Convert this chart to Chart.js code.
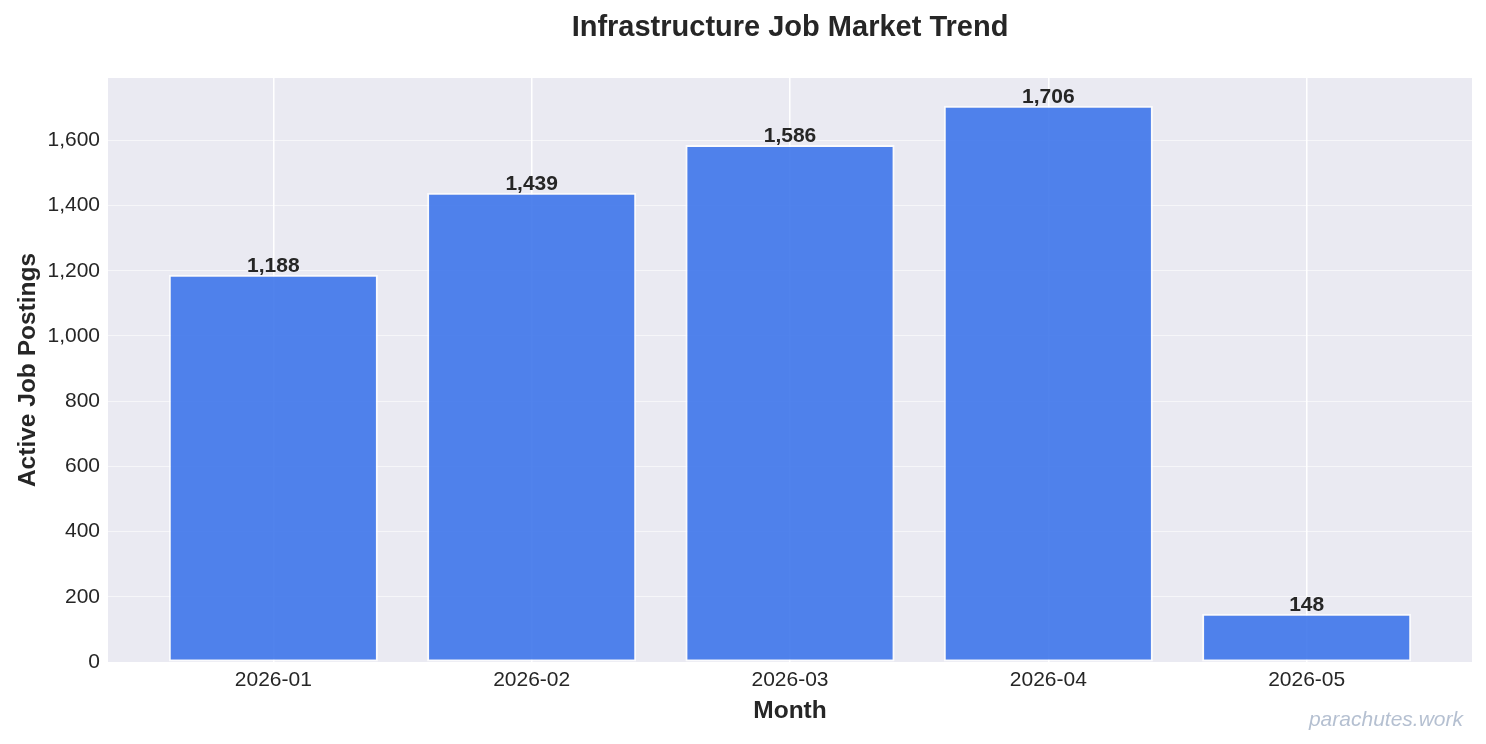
<!DOCTYPE html>
<html>
<head>
<meta charset="utf-8">
<script src="https://cdn.jsdelivr.net/npm/chart.js@4.4.0/dist/chart.umd.min.js"></script>
<style>
  html, body { margin: 0; padding: 0; background: #ffffff; }
  #wrap { width: 1486px; height: 744px; }
</style>
</head>
<body>
<div id="wrap"><canvas id="myChart" width="1486" height="744"></canvas></div>
<script>
// chart data
const months = ["2026-01", "2026-02", "2026-03", "2026-04", "2026-05"];
const postings = [1188, 1439, 1586, 1706, 148];
const yTicks = [0, 200, 400, 600, 800, 1000, 1200, 1400, 1600];

const FONT = "'Liberation Sans', Arial, sans-serif";
const TEXT = "#262626";

// plot background + title + bar labels + watermark
const decorations = {
  id: "decorations",
  beforeDraw(chart) {
    const { ctx, chartArea } = chart;
    ctx.save();
    ctx.fillStyle = "#eaeaf2";
    ctx.fillRect(chartArea.left, chartArea.top, chartArea.right - chartArea.left, chartArea.bottom - chartArea.top);
    ctx.restore();
  },
  afterDraw(chart) {
    const { ctx, chartArea } = chart;
    ctx.save();
    // title centred over plot area
    ctx.fillStyle = TEXT;
    ctx.font = "bold 29px " + FONT;
    ctx.textAlign = "center";
    ctx.textBaseline = "middle";
    ctx.fillText("Infrastructure Job Market Trend", (chartArea.left + chartArea.right) / 2, 28);

    // value labels above bars
    ctx.font = "bold 21px " + FONT;
    ctx.textBaseline = "bottom";
    const meta = chart.getDatasetMeta(0);
    meta.data.forEach((bar, i) => {
      ctx.fillText(postings[i].toLocaleString("en-US"), bar.x, bar.y + 2);
    });

    // watermark
    ctx.font = "italic 21px " + FONT;
    ctx.fillStyle = "rgba(150,165,190,0.7)";
    ctx.textAlign = "right";
    ctx.textBaseline = "middle";
    ctx.fillText("parachutes.work", 1463, 720);
    ctx.restore();
  },
};

const ctx = document.getElementById("myChart").getContext("2d");
new Chart(ctx, {
  type: "bar",
  data: {
    datasets: [
      {
        label: "Active Job Postings",
        data: postings.map((v, i) => ({ x: i, y: v })),
        backgroundColor: "rgba(62,118,234,0.9)",
        borderColor: "rgba(255,255,255,0.75)",
        borderWidth: 2,
        borderSkipped: false,
        categoryPercentage: 0.8,
        barPercentage: 1.012,
      },
    ],
  },
  options: {
    responsive: false,
    animation: false,
    events: [],
    layout: { padding: { top: 78, right: 14, bottom: 0, left: 0 } },
    plugins: {
      legend: { display: false },
      tooltip: { enabled: false },
      title: { display: false },
    },
    scales: {
      x: {
        type: "linear",
        min: -0.64,
        max: 4.64,
        offset: false,
        afterBuildTicks: (scale) => {
          scale.ticks = months.map((m, i) => ({ value: i }));
        },
        afterFit: (scale) => {
          scale.height = 82;
        },
        ticks: {
          callback: (value) => months[value],
          color: TEXT,
          font: { family: FONT, size: 21 },
          padding: 6,
          maxRotation: 0,
        },
        grid: {
          offset: false,
          color: "rgba(255,255,255,1)",
          lineWidth: 1.5,
          drawTicks: false,
        },
        border: { display: false },
        title: {
          display: true,
          text: "Month",
          color: TEXT,
          font: { family: FONT, size: 24.5, weight: "bold" },
          padding: { top: 0, bottom: 18 },
        },
      },
      y: {
        min: 0,
        max: 1706 * 1.05,
        afterBuildTicks: (scale) => {
          scale.ticks = yTicks.map((v) => ({ value: v }));
        },
        afterFit: (scale) => {
          scale.width = 108;
        },
        ticks: {
          color: TEXT,
          font: { family: FONT, size: 21 },
          padding: 8,
        },
        grid: {
          color: "rgba(255,255,255,0.55)",
          lineWidth: 1,
          drawTicks: false,
        },
        border: { display: false },
        title: {
          display: true,
          text: "Active Job Postings",
          color: TEXT,
          font: { family: FONT, size: 24.5, weight: "bold" },
          padding: { top: 14, bottom: 0 },
        },
      },
    },
  },
  plugins: [decorations],
});
</script>
</body>
</html>
